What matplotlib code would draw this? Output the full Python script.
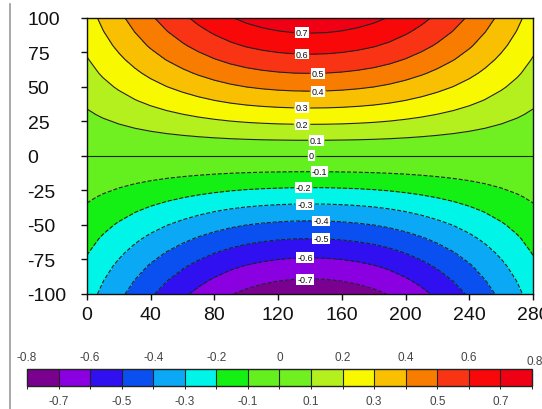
import numpy as np
import matplotlib
matplotlib.use("Agg")
import matplotlib.pyplot as plt
from matplotlib.colors import ListedColormap, BoundaryNorm
from matplotlib.lines import Line2D

plt.rcParams['font.family'] = ['Liberation Sans', 'DejaVu Sans']
plt.rcParams['axes.unicode_minus'] = False

# Sample grid
x_vals = np.arange(0, 281, 10)
y_vals = np.arange(-100, 101, 10)

# Zonal weighting profile along x (one value per x sample)
g_profile = [0.340, 0.420, 0.495, 0.568, 0.638, 0.703, 0.762, 0.817, 0.866, 0.909,
             0.943, 0.968, 0.986, 0.997, 1.000, 0.997, 0.986, 0.968, 0.943, 0.909,
             0.866, 0.817, 0.762, 0.703, 0.638, 0.568, 0.495, 0.420, 0.340]

# Meridional profile along y (one value per y sample)
h_profile = [-0.764, -0.706, -0.643, -0.574, -0.501, -0.424, -0.344, -0.260, -0.175, -0.088,
             0.000, 0.088, 0.175, 0.260, 0.344, 0.424, 0.501, 0.574, 0.643, 0.706, 0.764]

levels = [-0.8, -0.7, -0.6, -0.5, -0.4, -0.3, -0.2, -0.1, 0.0,
          0.1, 0.2, 0.3, 0.4, 0.5, 0.6, 0.7, 0.8]

band_colors = ['#7a0090', '#8a00e0', '#3010f0', '#0a50f0', '#0aa8f5', '#00f5e8',
               '#14f014', '#64f01e', '#70f020', '#b4f01e', '#f8f800', '#f8c000',
               '#f87c00', '#f83414', '#f80808', '#f00014']

x_ticks = [0, 40, 80, 120, 160, 200, 240, 280]
y_ticks = [-100, -75, -50, -25, 0, 25, 50, 75, 100]

# Contour label placement (x position for each labelled level)
label_levels = [0.7, 0.6, 0.5, 0.4, 0.3, 0.2, 0.1, 0.0,
                -0.1, -0.2, -0.3, -0.4, -0.5, -0.6, -0.7]
label_x = [135, 135, 145, 145, 135, 135, 144, 141,
           146, 136, 137, 147, 147, 137, 137]

# Field built from the two profiles
Z = np.outer(h_profile, g_profile)
X, Y = np.meshgrid(x_vals, y_vals)

cmap = ListedColormap(band_colors)
norm = BoundaryNorm(levels, cmap.N)

fig = plt.figure(figsize=(5.42, 4.10), dpi=100)
fig.patch.set_facecolor('white')

ax = fig.add_axes([0.1605, 0.2805, 0.8229, 0.6732])
cf = ax.contourf(X, Y, Z, levels=levels, cmap=cmap, norm=norm)
cs = ax.contour(X, Y, Z, levels=levels, colors='#222222', linewidths=0.8)

# Label positions: put each label on its own contour near the chosen x
manual_pts = []
for lv, lx in zip(label_levels, label_x):
    gx = np.interp(lx, x_vals, g_profile)
    ly = np.interp(lv / gx, h_profile, y_vals)
    manual_pts.append((lx, ly))
texts = ax.clabel(cs, manual=manual_pts, inline=True,
                  inline_spacing=2, fmt='%g', fontsize=6.5, colors='#111111')
for t in texts:
    t.set_rotation(0)
    t.set_bbox(dict(facecolor='white', edgecolor='none', pad=0.7))

ax.set_xlim(0, 280)
ax.set_ylim(-100, 100)
ax.set_xticks(x_ticks)
ax.set_yticks(y_ticks)
ax.tick_params(axis='both', direction='out', length=4.3, width=1.0,
               labelsize=14, colors='#111111')
ax.tick_params(axis='x', pad=4.5)
ax.tick_params(axis='y', pad=38.5)
for lab in ax.get_yticklabels():
    lab.set_horizontalalignment('left')
for sp in ax.spines.values():
    sp.set_linewidth(1.0)
    sp.set_color('#111111')

# Colour bar with alternating labels above and below
cax = fig.add_axes([0.0498, 0.0561, 0.9317, 0.0415])
cb = fig.colorbar(cf, cax=cax, orientation='horizontal', drawedges=True)
cb.set_ticks([])
cb.outline.set_linewidth(1.0)
cb.outline.set_edgecolor('#222222')
cb.dividers.set_linewidth(0.8)
cb.dividers.set_color('#222222')
cax.tick_params(length=0)

lo, hi = levels[0], levels[-1]
for i, lv in enumerate(levels):
    frac = (lv - lo) / (hi - lo)
    txt = '%g' % lv
    if i == len(levels) - 1:
        cax.text(frac + 0.006, 1.47, txt, transform=cax.transAxes, ha='center',
                 va='center', fontsize=8.5, color='#444444')
    elif i % 2 == 0:
        cax.text(frac, 1.7, txt, transform=cax.transAxes, ha='center',
                 va='center', fontsize=8.5, color='#444444')
    else:
        cax.text(frac, -0.88, txt, transform=cax.transAxes, ha='center',
                 va='center', fontsize=8.5, color='#444444')

# Thin page margin line at the left
fig.add_artist(Line2D([10 / 542, 10 / 542], [0, 1 - 5 / 410],
                      transform=fig.transFigure, color='#9a9a9a', lw=1.2))

fig.savefig('out.png', dpi=100)
